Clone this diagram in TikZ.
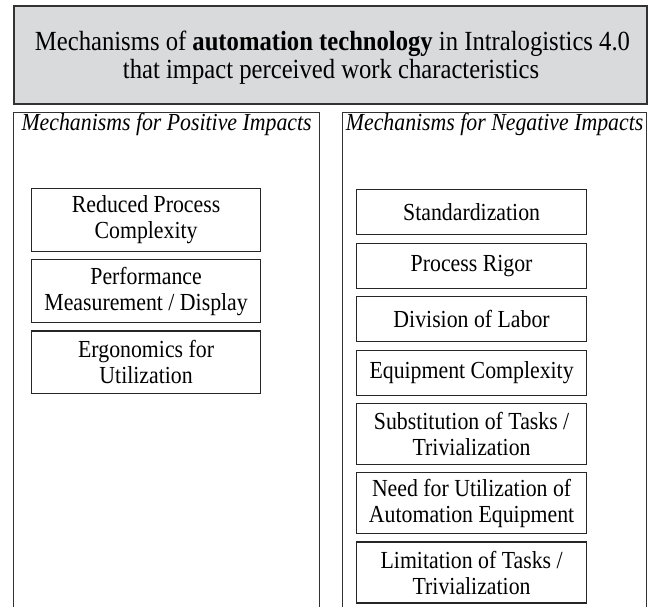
\documentclass[tikz,border=0pt]{standalone}
\usepackage{fontspec}
\setmainfont{Liberation Serif}[FakeStretch=0.89]
\usepackage{tikz}
\usetikzlibrary{positioning}
\definecolor{headgray}{RGB}{217,218,220}
\definecolor{framegray}{RGB}{50,50,50}
\tikzstyle{headbox} = [draw=framegray, fill=headgray, line width=1.5pt,
    rectangle, minimum width=633pt, minimum height=98pt, inner sep=0pt]
\tikzstyle{headline} = [font=\fontsize{27.7}{28.3}\selectfont, inner sep=0pt, anchor=base]
\tikzstyle{panel} = [draw=framegray, line width=1.2pt, rectangle,
    minimum height=520pt, inner sep=0pt]
\tikzstyle{paneltitle} = [font=\fontsize{24.5}{26}\selectfont\itshape, inner sep=0pt, anchor=base]
\tikzstyle{mechbox} = [draw=black!85, line width=1.2pt, rectangle, align=center,
    inner sep=1pt, font=\fontsize{24.5}{26}\selectfont]
\tikzstyle{onerow} = [mechbox, minimum width=230pt, minimum height=45pt]
\tikzstyle{tworow} = [mechbox, minimum width=230pt, minimum height=61pt]

\begin{document}
\begin{tikzpicture}[x=1pt, y=1pt]
                \useasboundingbox (0,0) rectangle (652,-606);
                \node [headbox, anchor=north west] (head) at (13,-5) {};
                \node [headline] (headtop) at (332.5,-50)
                    {Mechanisms of \textbf{automation technology} in Intralogistics 4.0};
                \node [headline] (headbottom) at (331,-78.3)
                    {that impact perceived work characteristics};
                % two columns
                \node [panel, minimum width=306pt, anchor=north west] (pos) at (13,-111.5) {};
                \node [panel, minimum width=304pt, anchor=north west] (neg) at (342,-111.5) {};
                \node [paneltitle] (postitle) at ([yshift=-18.5pt]pos.north) {Mechanisms for Positive Impacts};
                \node [paneltitle] (negtitle) at ([yshift=-18.5pt]neg.north) {Mechanisms for Negative Impacts};
                % positive mechanisms
                \node [tworow, minimum width=229pt, minimum height=62.5pt, anchor=north west] (reduced) at (31,-188) {Reduced Process\\Complexity};
                \node [tworow, minimum width=229pt, minimum height=62.5pt, below=7.5pt of reduced] (perf) {Performance\\Measurement / Display};
                \node [tworow, minimum width=229pt, minimum height=62.5pt, below=7.5pt of perf] (ergo) {Ergonomics for\\Utilization};
                % negative mechanisms
                \node [onerow, anchor=north west] (stand) at (356,-189) {Standardization};
                \node [onerow, below=7.3pt of stand] (rigor) {Process Rigor};
                \node [onerow, below=7.3pt of rigor] (division) {Division of Labor};
                \node [onerow, below=7.3pt of division] (equip) {Equipment Complexity};
                \node [tworow, below=7.3pt of equip] (subst) {Substitution of Tasks /\\Trivialization};
                \node [tworow, below=7pt of subst] (need) {Need for Utilization of\\Automation Equipment};
                \node [tworow, below=7pt of need] (limit) {Limitation of Tasks /\\Trivialization};
            \end{tikzpicture}
\end{document}
